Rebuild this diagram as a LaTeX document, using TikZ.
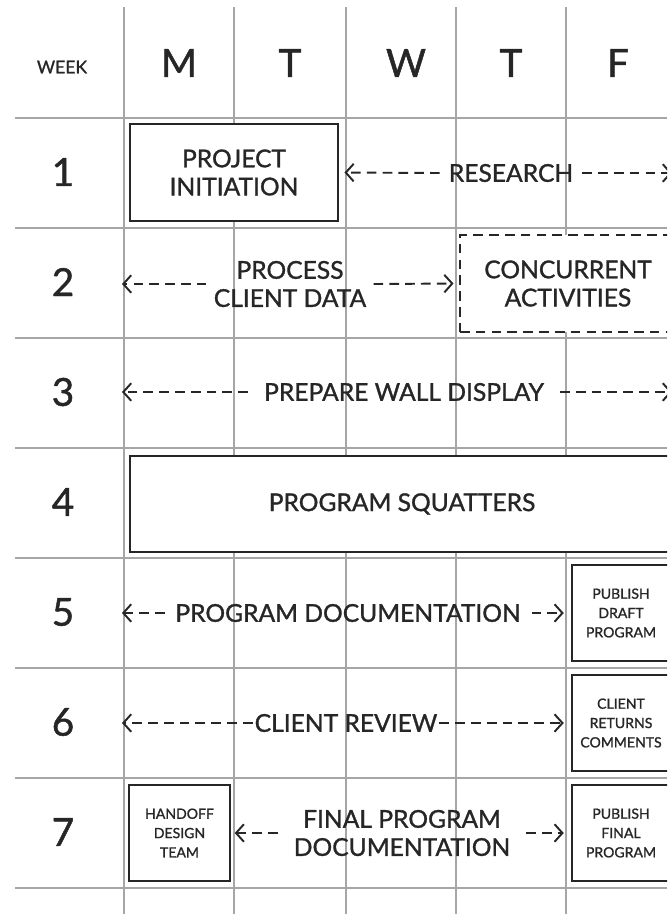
\documentclass[tikz,border=0pt]{standalone}
\usepackage{fontspec}
\setmainfont{Lato}[FakeBold=1.2]
\usetikzlibrary{arrows.meta,positioning}

\begin{document}
\begin{tikzpicture}[
  x=0.02cm, y=-0.02cm,
  gridline/.style={draw=black!35, line width=0.6pt},
  day/.style={font=\fontsize{22}{24}\selectfont, text=black!85},
  box/.style={rectangle, draw=black!85, line width=1.4pt, fill=white, align=center,
              text=black!85, font=\fontsize{14}{16}\selectfont, inner sep=0pt},
  dbox/.style={box, dash pattern=on 5.5pt off 3.5pt},
  smallbox/.style={box, font=\fontsize{8}{11}\selectfont,
                   minimum width=1.96cm, minimum height=1.92cm},
  task/.style={align=center, text=black!85, font=\fontsize{14}{16}\selectfont, inner sep=4pt},
  flow/.style={draw=black!85, line width=1.1pt, dash pattern=on 5.5pt off 3.5pt,
               -{Straight Barb[length=4.5pt,width=10pt]}}
]
  \useasboundingbox (0,0) rectangle (667,914);
  \clip (0,0) rectangle (667,914);
  \foreach \x in {124,234,346,456,566}
    \draw[gridline] (\x,7) -- (\x,914);
  \foreach \y in {118,228,338,448,558,668,778,888}
    \draw[gridline] (15,\y) -- (667,\y);

  \node[font=\fontsize{10}{12}\selectfont, text=black!85] (week) at (62,67) {WEEK};
  \foreach \x/\d [count=\i] in {179/M,290/T,406/W,511/T,618/F}
    \node[day] (d\i) at (\x,63) {\d};
  \foreach \i in {1,...,7}
    \node[day] (w\i) at (63,62+110*\i) {\i};

  \node[box, minimum width=4.16cm, minimum height=1.94cm] (init) at (234,172.5) {PROJECT\\INITIATION};
  \node[dbox, minimum width=4.32cm, minimum height=1.94cm] (conc) at (568,283.5) {CONCURRENT\\ACTIVITIES};
  \node[box, minimum width=10.88cm, minimum height=1.92cm] (squat) at (402,504) {PROGRAM SQUATTERS};
  \node[smallbox] (draft)  at (621,613) {PUBLISH\\DRAFT\\PROGRAM};
  \node[smallbox] (review) at (621,723) {CLIENT\\RETURNS\\COMMENTS};
  \node[smallbox] (final)  at (621,833) {PUBLISH\\FINAL\\PROGRAM};
  \node[smallbox, minimum width=2.02cm] (hand) at (179.5,833) {HANDOFF\\DESIGN\\TEAM};

  \node[task, inner xsep=5pt] (res) at (511,173) {RESEARCH};
  \node[task] (proc) at (290,284) {PROCESS\\CLIENT DATA};
  \node[task, inner xsep=9pt] (wall) at (404,392) {PREPARE WALL DISPLAY};
  \node[task, inner xsep=6pt] (doc) at (348,613) {PROGRAM DOCUMENTATION};
  \node[task, inner xsep=1pt] (rev) at (346,723) {CLIENT REVIEW};
  \node[task, inner xsep=9pt] (fin) at (402,833) {FINAL PROGRAM\\DOCUMENTATION};

  \coordinate (e1) at (672,173);
  \coordinate (w2) at (122,284);
  \coordinate (w3) at (122,392);
  \coordinate (e3) at (672,392);
  \coordinate (w5) at (122,613);
  \coordinate (w6) at (122,723);

  \draw[flow, shorten >=3pt] (res.west) -- (init.east);
  \draw[flow] (res.east) -- (e1);
  \draw[flow] (proc.west) -- (w2);
  \draw[flow, shorten >=3pt] (proc.east) -- (conc.west);
  \draw[flow] (wall.west) -- (w3);
  \draw[flow] (wall.east) -- (e3);
  \draw[flow] (doc.west) -- (w5);
  \draw[flow, shorten >=4pt] (doc.east) -- (draft.west);
  \draw[flow] (rev.west) -- (w6);
  \draw[flow, shorten >=4pt] (rev.east) -- (review.west);
  \draw[flow, shorten >=2pt] (fin.west) -- (hand.east);
  \draw[flow, shorten >=4pt] (fin.east) -- (final.west);
\end{tikzpicture}
\end{document}
